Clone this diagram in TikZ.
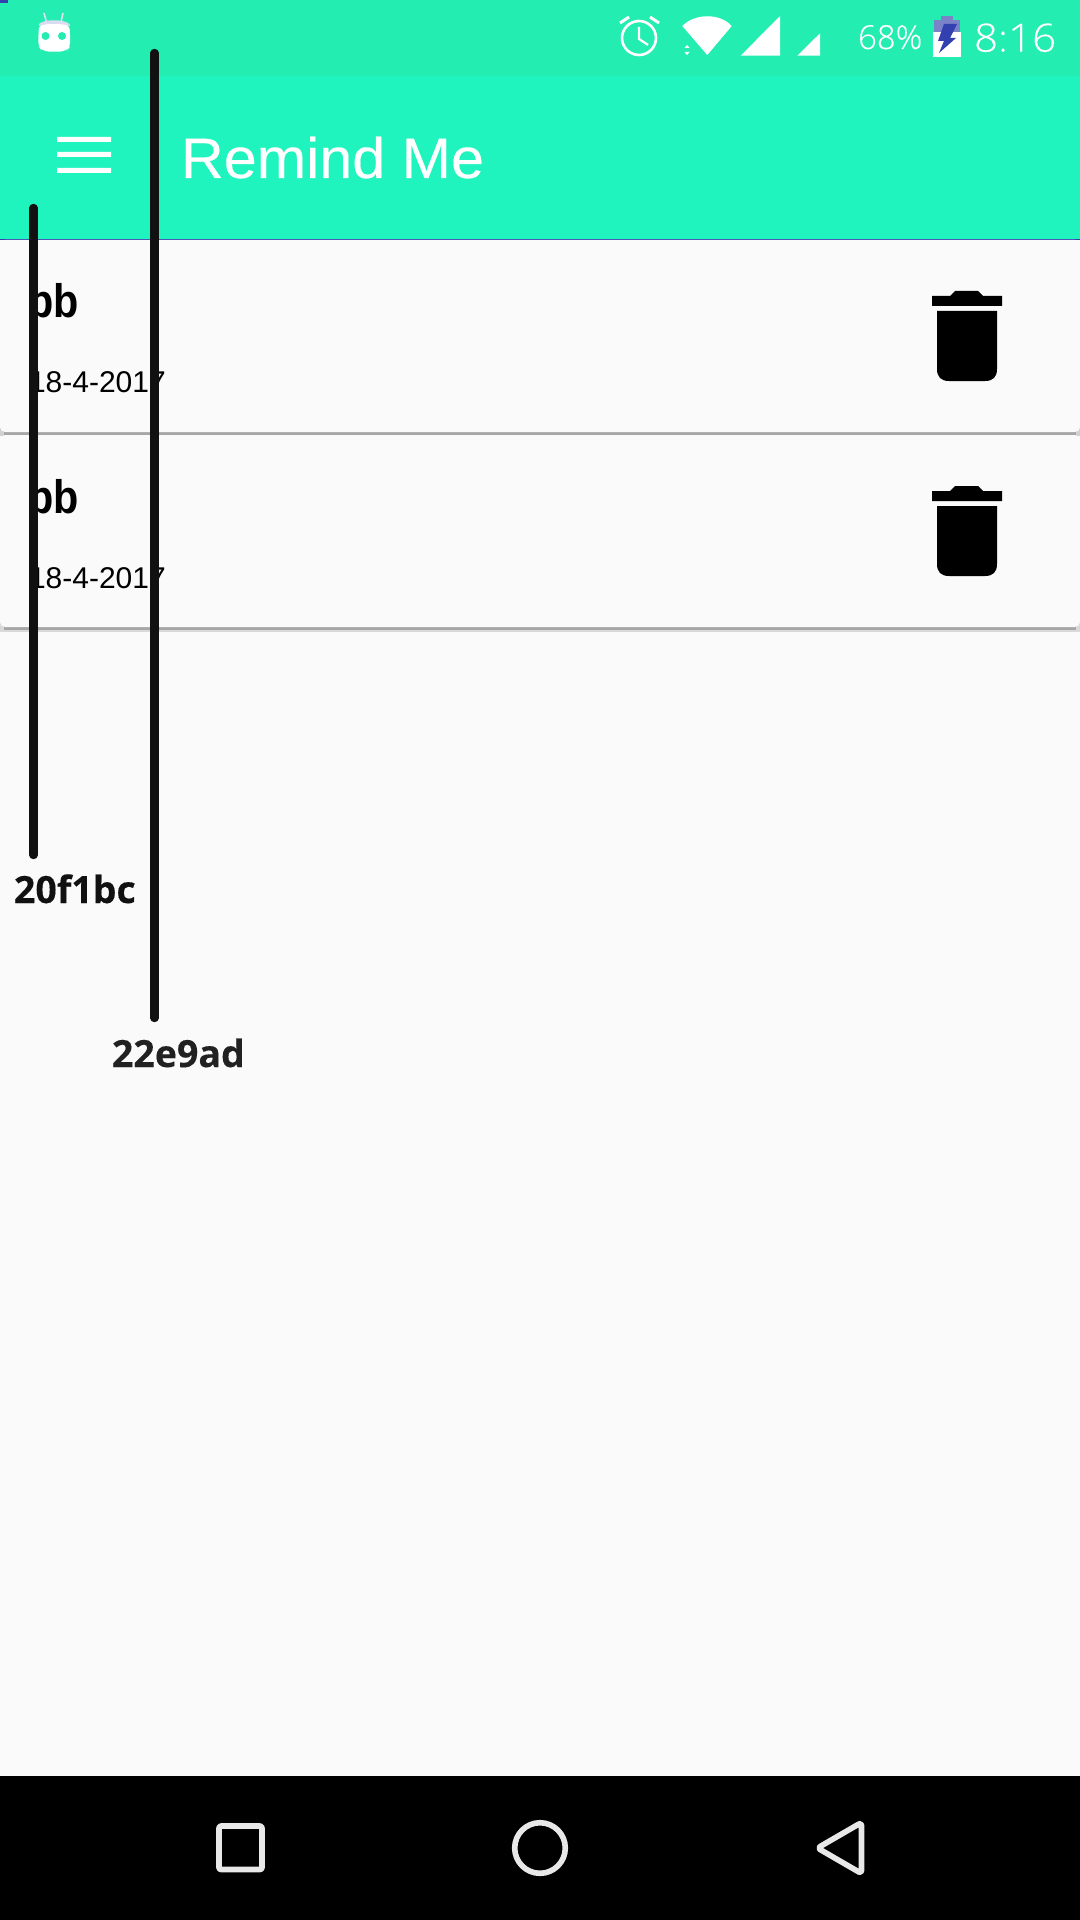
\documentclass[tikz,border=0pt]{standalone}
\usepackage{fontspec}
\setmainfont{Liberation Sans}
\newfontfamily\thinfont[FakeBold=0.15]{Open Sans Light}
\newfontfamily\clockfont[FakeStretch=1.08,FakeBold=0.15]{Open Sans Light}
\newfontfamily\notefont[FakeBold=0.25]{Open Sans}
\newfontfamily\titlefont[FakeStretch=1.04,FakeBold=0.2]{Liberation Sans}
\newfontfamily\headfont[FakeStretch=0.88]{Liberation Sans}
\definecolor{statusgreen}{HTML}{24EDB2}
\definecolor{barmint}{HTML}{20F4BE}
\definecolor{pagebg}{HTML}{FAFAFA}
\definecolor{inkline}{HTML}{111111}
\definecolor{navgrey}{HTML}{E8E8E8}
\definecolor{shadowgrey}{HTML}{A6A6A6}
\definecolor{indigo}{HTML}{3340B0}
\definecolor{lilac}{HTML}{7A82C8}
\newcommand{\px}[1]{\fontsize{\the\dimexpr #1pt/2\relax}{\the\dimexpr #1pt/2\relax}\selectfont}
\tikzset{
  x=0.5pt,y=-0.5pt,
  txt/.style={anchor=base west,inner sep=0pt,outer sep=0pt},
  markline/.style={line width=4.2pt,color=inkline,line cap=round},
  navicon/.style={draw=navgrey,line width=2.8pt,line join=round},
  card/.style={fill=pagebg,draw=none,rounded corners=2.5pt},
}
\newcommand{\trash}[1]{%
  \begin{scope}[shift={(0,#1)}]
  \fill[black] (932,296) -- (950,296) -- (955,291) -- (978,291) -- (983,296) -- (1002,296) -- (1002,306) -- (932,306) -- cycle;
  \fill[black] (937,311) -- (937,369) .. controls (937,377) and (941,381) .. (949,381) -- (985,381) .. controls (993,381) and (997,377) .. (997,369) -- (997,311) -- cycle;
  \end{scope}}
\begin{document}
\begin{tikzpicture}
\useasboundingbox (0,0) rectangle (1080,1920);
\fill[pagebg] (0,0) rectangle (1080,1920);
\fill[barmint] (0,76) rectangle (1080,240);
\fill[statusgreen] (0,0) rectangle (1080,76.5);
\fill[indigo] (0,239) rectangle (1080,240);
\fill[indigo] (0,0) rectangle (8,3);
% android
\draw[white!85!indigo,line width=0.8pt] (44,13) -- (46.5,22) (63,13) -- (61,22);
\fill[white,rounded corners=3pt] (39,24) -- (38,46) -- (42,51) -- (54,52) -- (67,51) -- (70.5,46) -- (69.5,24) -- cycle;
\fill[white!82!indigo] (39,24) .. controls (44,19) and (64,19) .. (69.5,24) -- (70,26) .. controls (60,23) and (48,23) .. (39,26) -- cycle;
\fill[statusgreen] (45.5,36) circle[radius=4] (62,36) circle[radius=4];
% alarm
\draw[white,line width=1.3pt] (639,38) circle[radius=17];
\draw[white,line width=1.1pt] (639,27) -- (639,39) -- (648,45);
\draw[white,line width=1.5pt] (620,23) -- (629,17) (650,17) -- (659,23);
% wifi
\fill[white] (682.3,26) .. controls (695,13) and (720,13) .. (731.7,26) -- (707.3,55) -- cycle;
\fill[white] (687,45) -- (684.5,48) -- (689.5,48) -- cycle (687,55) -- (684.5,52) -- (689.5,52) -- cycle;
% signal
\fill[white] (740.7,55.7) -- (780,55.7) -- (780,16) -- cycle;
\fill[white] (797.3,55.7) -- (820,55.7) -- (820,33.3) -- cycle;
\node[txt,text=white,font=\thinfont\px{33}] (pct) at (858,49) {68\%};
% battery
\fill[lilac] (934,20) rectangle (960,32);
\fill[lilac] (941,16) rectangle (953,20);
\fill[white] (933,32) rectangle (960.5,57);
\fill[indigo] (944,24) -- (957,24) -- (950,38) -- (956,38) -- (939,53) -- (944,41) -- (938,41) -- cycle;
\node[txt,text=white,font=\clockfont\px{39}] (clock) at (974,51.7) {8:16};
% toolbar
\fill[white] (57,137) rectangle (111,142) (57,152) rectangle (111,157) (57,168) rectangle (111,173);
\node[txt,text=white,font=\titlefont\px{57}] (title) at (181,178) {Remind Me};
% cards
\fill[black!18] (0,426) rectangle (1080,436);
\fill[shadowgrey] (4,430) rectangle (1076,434.5);
\fill[card] (0,240) rectangle (1080,432);
\fill[black!15] (0,622) rectangle (1080,632);
\fill[shadowgrey] (4,622) rectangle (1076,630);
\fill[card] (0,435) rectangle (1080,627);
\node[txt,font=\headfont\bfseries\px{47}] (t1) at (28.5,318) {bb};
\node[txt,font=\px{30}] (d1) at (29,393) {18-4-2017};
\node[txt,font=\headfont\bfseries\px{47}] (t2) at (28.5,513) {bb};
\node[txt,font=\px{30}] (d2) at (29,588) {18-4-2017};
\trash{0}
\trash{195}
% marker lines
\coordinate (l1a) at (33.5,208);
\coordinate (l1b) at (33.5,855);
\coordinate (l2a) at (154.5,53);
\coordinate (l2b) at (154.5,1018);
\draw[markline] (l1a) -- (l1b);
\draw[markline] (l2a) -- (l2b);
\node[txt,text=inkline,font=\notefont\bfseries\px{37.5}] (n1) at (14,903) {20f1bc};
\node[txt,text=black!87,font=\notefont\bfseries\px{37.5}] (n2) at (112,1067) {22e9ad};
% nav bar
\fill[black] (0,1776) rectangle (1080,1920);
\draw[navicon,rounded corners=1pt] (219,1826) rectangle (262,1869.5);
\draw[navicon] (540,1848) circle[radius=25.3];
\draw[navicon,rounded corners=1.5pt] (817.5,1848) -- (861.5,1822.5) -- (861.5,1873.5) -- cycle;
\end{tikzpicture}
\end{document}
